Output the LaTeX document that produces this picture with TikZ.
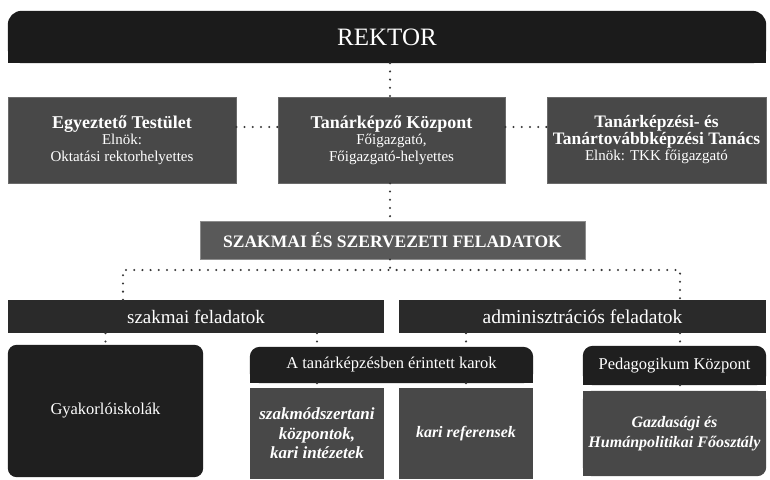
\documentclass[tikz,border=0pt]{standalone}
\usepackage{fontspec}
\setmainfont{Liberation Serif}
\usetikzlibrary{backgrounds}

\definecolor{rektorc}{HTML}{1B1B1B}
\definecolor{unitc}{HTML}{484848}
\definecolor{unitedge}{HTML}{6A6A6A}
\definecolor{mainc}{HTML}{595959}
\definecolor{mainedge}{HTML}{8C8C8C}
\definecolor{barc}{HTML}{2A2A2A}
\definecolor{darkc}{HTML}{1F1F1F}
\definecolor{dotc}{HTML}{383838}

\newcommand\fsz[2]{\fontsize{#1}{#2}\selectfont}

\tikzset{
  label box/.style={inner sep=0pt, align=center, text=white},
  unitbox/.style={label box, fill=unitc, draw=unitedge, line width=0.7pt},
  mainbox/.style={label box, fill=mainc, draw=mainedge, line width=0.9pt},
  barbox/.style={label box, fill=barc},
  hollow/.style={label box},
  dotline/.style={draw=dotc, line width=2.3pt, line cap=round, dash pattern=on 0pt off 8.2pt},
}

\begin{document}
\begin{tikzpicture}[x=1pt, y=-1pt]
\useasboundingbox (0,0) rectangle (770,479);

% top level
\node[hollow, minimum width=758pt, minimum height=52pt, font=\fsz{25}{28}] (rektor) at (387,37) {REKTOR};

% second row
\node[unitbox, minimum width=228pt, minimum height=86pt, font=\fsz{15}{16.5}] (egy) at (122,140)
  {{\bfseries\fsz{18}{18}Egyeztető Testület}\\Elnök:\\Oktatási rektorhelyettes};
\node[unitbox, minimum width=227pt, minimum height=86pt, font=\fsz{15}{16.5}] (tkp) at (391.5,140)
  {{\bfseries\fsz{18}{18}Tanárképző Központ}\\Főigazgató,\\Főigazgató-helyettes};
\node[unitbox, minimum width=219pt, minimum height=86pt, font=\fsz{15}{16.5}] (tanacs) at (656.5,140)
  {{\bfseries\fsz{17.5}{20}Tanárképzési- és}\\{\bfseries\fsz{17.5}{20}Tanártovábbképzési Tanács}\\Elnök: TKK főigazgató};

% tasks
\node[mainbox, minimum width=385pt, minimum height=38pt, font=\bfseries\fsz{17.5}{18}] (szak) at (392.5,240)
  {SZAKMAI ÉS SZERVEZETI FELADATOK};
\node[barbox, minimum width=376pt, minimum height=33pt, font=\fsz{19}{20}] (bar1) at (196,316.5) {szakmai feladatok};
\node[barbox, minimum width=367pt, minimum height=33pt, font=\fsz{19.5}{20}] (bar2) at (582.5,316.5) {adminisztrációs feladatok};

% bottom row
\node[hollow, minimum width=195pt, minimum height=132pt, font=\fsz{16.5}{18}] (gyak) at (105.5,411) {Gyakorlóiskolák};
\node[hollow, minimum width=283pt, minimum height=36pt, font=\fsz{16.5}{18}] (hdr1) at (391.5,365) {A tanárképzésben érintett karok};
\node[unitbox, draw=none, minimum width=134pt, minimum height=91pt, font=\bfseries\itshape\fsz{17}{19.5}] (sm) at (317,433.5)
  {szakmódszertani\\központok,\\kari intézetek};
\node[unitbox, draw=none, minimum width=134pt, minimum height=91pt, font=\bfseries\itshape\fsz{16}{19.5}] (kr) at (466,433.5)
  {kari referensek};
\node[hollow, minimum width=183pt, minimum height=39pt, font=\fsz{16.5}{18}] (hdr2) at (674.5,365.5) {Pedagogikum Központ};
\node[hollow, minimum width=183pt, minimum height=85pt, font=\bfseries\itshape\fsz{16}{19.5}] (gaz) at (674.5,433.5)
  {Gazdasági és\\Humánpolitikai Főosztály};

% shapes with partly rounded corners
\begin{scope}[on background layer]
  \fill[white] (0,0) rectangle (770,479);
  % REKTOR: rounded top corners
  \fill[rektorc, rounded corners=14pt] (rektor.south west) rectangle (rektor.north east);
  \fill[rektorc] (rektor.west) rectangle (rektor.south east);
  % Gyakorlóiskolák: all corners rounded
  \fill[darkc, rounded corners=9pt] (gyak.south west) rectangle (gyak.north east);
  % headers: rounded top corners
  \fill[darkc, rounded corners=10pt] (hdr1.south west) rectangle (hdr1.north east);
  \fill[darkc] (hdr1.west) rectangle (hdr1.south east);
  \fill[darkc, rounded corners=10pt] (hdr2.south west) rectangle (hdr2.north east);
  \fill[darkc] (hdr2.west) rectangle (hdr2.south east);
  % Gazdasági: rounded bottom-right corner only
  \fill[unitc, rounded corners=9pt] (gaz.south west) rectangle (gaz.north east);
  \fill[unitc] (gaz.south west) rectangle (gaz.north);
  \fill[unitc] (gaz.west) rectangle (gaz.north east);
\end{scope}

% junction points of the task split
\coordinate (jl) at (123,270);
\coordinate (jm) at (390,270);
\coordinate (jr) at (680,270);

% dotted connectors
\draw[dotline] (rektor.south -| jm) -- (tkp.north -| jm);
\draw[dotline] ([yshift=13pt]egy.east) -- ([yshift=13pt]tkp.west);
\draw[dotline] ([yshift=13pt]tkp.east) -- ([yshift=13pt]tanacs.west);
\draw[dotline] (tkp.south -| jm) -- (szak.north -| jm);
\draw[dotline] (szak.south -| jm) -- (jm);
\draw[dotline] (bar1.north -| jl) -- (jl) -- (jr) -- (bar2.north -| jr);
\draw[dotline] (bar1.south -| gyak.north) -- (gyak.north);
\draw[dotline] (bar1.south -| sm.north) -- (hdr1.north -| sm.north);
\draw[dotline] (bar2.south -| kr.north) -- (hdr1.north -| kr.north);
\draw[dotline] (hdr1.south -| sm.north) -- (sm.north);
\draw[dotline] (hdr1.south -| kr.north) -- (kr.north);
\draw[dotline] (bar2.south -| jr) -- (hdr2.north -| jr);
\draw[dotline] (hdr2.south -| jr) -- (gaz.north -| jr);
\end{tikzpicture}
\end{document}
